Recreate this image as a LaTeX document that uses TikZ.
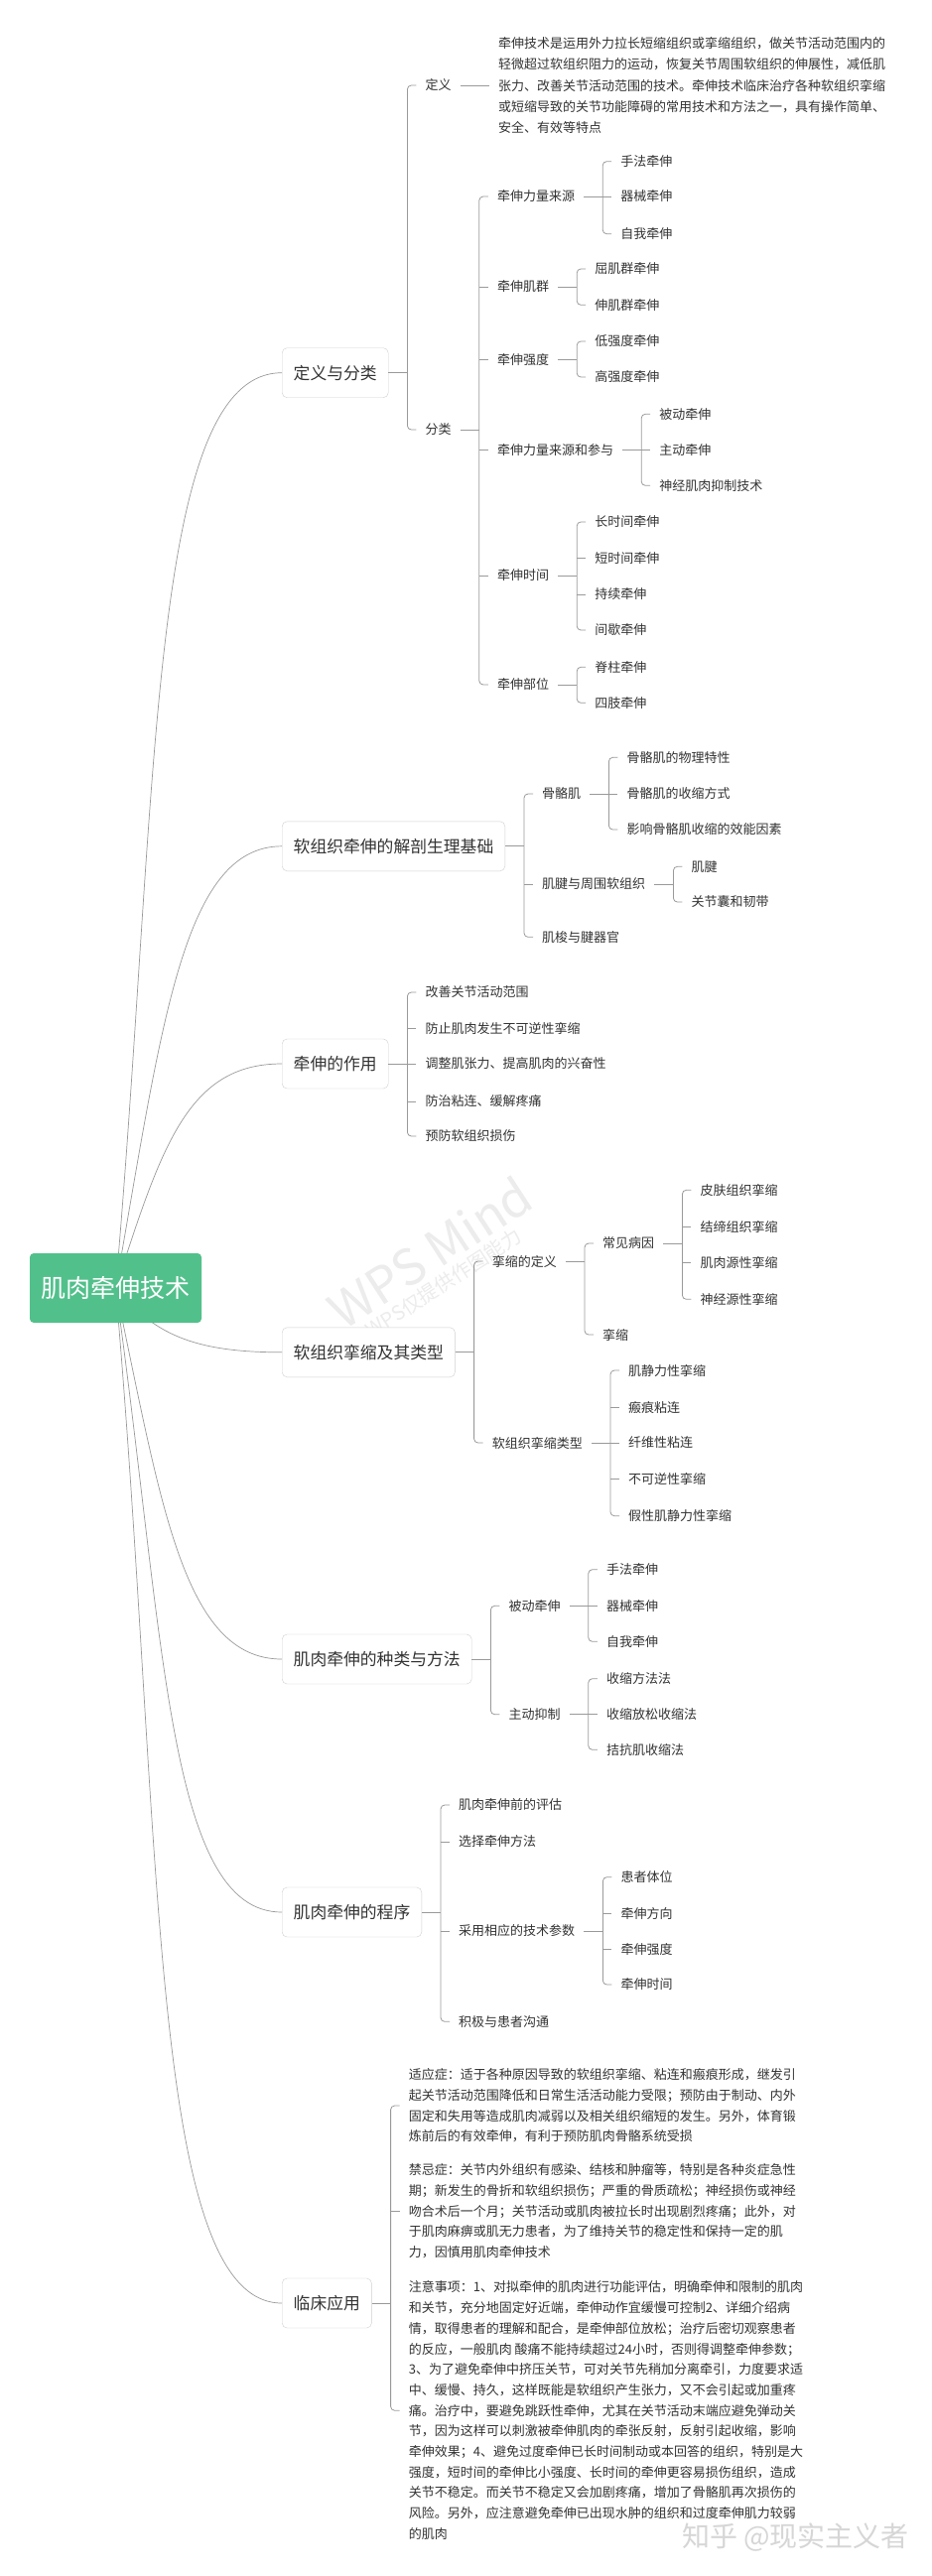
\documentclass[tikz,border=0pt]{standalone}
\usepackage{fontspec}
\setmainfont{Noto Sans CJK SC}
\usepackage{tikz}
\usetikzlibrary{positioning}
\definecolor{mapgreen}{HTML}{52C08B}
\definecolor{mapink}{HTML}{333333}
\definecolor{mapline}{HTML}{9A9A9A}
\definecolor{mapframe}{HTML}{CFCFCF}
\definecolor{mapmark}{HTML}{ECECEC}
\definecolor{mapsign}{HTML}{D6D6D6}
\tikzset{
  rootbox/.style={
    rectangle,
    rounded corners=4pt,
    fill=mapgreen,
    text=white,
    minimum width=173pt,
    minimum height=70pt,
    font=\fontsize{25}{30}\selectfont
  },
  topicbox/.style={
    rectangle,
    rounded corners=5pt,
    draw=mapframe,
    fill=white,
    text=mapink,
    inner xsep=11.5pt,
    minimum height=50pt,
    anchor=west,
    font=\fontsize{16.8}{20}\selectfont
  },
  leaf/.style={text=mapink, inner xsep=9pt, inner ysep=3pt, anchor=west, font=\fontsize{13}{16}\selectfont},
  leafpara/.style={leaf, align=left, font=\fontsize{13}{20.7}\selectfont},
  branch/.style={draw=mapline, line width=0.8pt, rounded corners=4pt},
  trunk/.style={draw=mapline, line width=0.7pt},
  watermark/.style={text=mapmark, inner sep=0pt}
}
\begin{document}
\begin{tikzpicture}[x=1pt,y=1pt]
\useasboundingbox (0,0) rectangle (939,-2596);
\fill[white] (0,0) rectangle (939,-2596);
\node[watermark, rotate=33, font=\fontsize{50}{50}\selectfont] (wpsmark) at (433,-1262) {WPS Mind};
\node[watermark, rotate=33, font=\fontsize{20}{20}\selectfont] (wpsnote) at (447,-1293) {WPS仅提供作图能力};
\coordinate (hub) at (116.5,-1298);
\node[topicbox] (defcls) at (284,-375.7) {定义与分类};
\node[topicbox] (anatomy) at (284,-852.8) {软组织牵伸的解剖生理基础};
\node[topicbox] (effect) at (284,-1072) {牵伸的作用};
\node[topicbox] (contract) at (284,-1362.8) {软组织挛缩及其类型};
\node[topicbox] (methods) at (284,-1672) {肌肉牵伸的种类与方法};
\node[topicbox] (proc) at (284,-1927) {肌肉牵伸的程序};
\node[topicbox] (clinic) at (284,-2321) {临床应用};

\coordinate (defclsk) at ([xshift=19pt]defcls.east);
\node[leaf, xshift=9pt] (defn) at (defclsk |- 0,-86) {定义};
\node[leaf, xshift=9pt] (cls) at (defclsk |- 0,-433) {分类};
\node[leafpara, right=29pt of defn, font=\fontsize{13}{21.1}\selectfont] (deftext) {牵伸技术是运用外力拉长短缩组织或挛缩组织，做关节活动范围内的\\轻微超过软组织阻力的运动，恢复关节周围软组织的伸展性，减低肌\\张力、改善关节活动范围的技术。牵伸技术临床治疗各种软组织挛缩\\或短缩导致的关节功能障碍的常用技术和方法之一，具有操作简单、\\安全、有效等特点};
\draw[branch] (defcls.east) -- (defclsk);
\draw[branch] (defn.west) -| (defclsk) |- (cls.west);
\draw[branch] (defn.east) -- (deftext.west);

\coordinate (clsk) at ([xshift=19pt]cls.east);
\node[leaf, xshift=9pt] (force) at (clsk |- 0,-198) {牵伸力量来源};
\node[leaf, xshift=9pt] (group) at (clsk |- 0,-289) {牵伸肌群};
\node[leaf, xshift=9pt] (strength) at (clsk |- 0,-362.5) {牵伸强度};
\node[leaf, xshift=9pt] (mode) at (clsk |- 0,-453.3) {牵伸力量来源和参与};
\node[leaf, xshift=9pt] (span) at (clsk |- 0,-580) {牵伸时间};
\node[leaf, xshift=9pt] (site) at (clsk |- 0,-690) {牵伸部位};
\draw[branch] (cls.east) -- (clsk);
\draw[branch] (force.west) -| (clsk) |- (site.west);
\draw[branch] (clsk |- group.west) -- (group.west);
\draw[branch] (clsk |- strength.west) -- (strength.west);
\draw[branch] (clsk |- mode.west) -- (mode.west);
\draw[branch] (clsk |- span.west) -- (span.west);

\coordinate (forcek) at ([xshift=19pt]force.east);
\node[leaf, xshift=9pt] (manual) at (forcek |- 0,-162.7) {手法牵伸};
\node[leaf, xshift=9pt] (device) at (forcek |- 0,-198) {器械牵伸};
\node[leaf, xshift=9pt] (selfst) at (forcek |- 0,-235.7) {自我牵伸};
\draw[branch] (force.east) -- (forcek);
\draw[branch] (manual.west) -| (forcek) |- (selfst.west);
\draw[branch] (forcek |- device.west) -- (device.west);

\coordinate (groupk) at ([xshift=19pt]group.east);
\node[leaf, xshift=9pt] (flexor) at (groupk |- 0,-271) {屈肌群牵伸};
\node[leaf, xshift=9pt] (extensor) at (groupk |- 0,-307.3) {伸肌群牵伸};
\draw[branch] (group.east) -- (groupk);
\draw[branch] (flexor.west) -| (groupk) |- (extensor.west);

\coordinate (strengthk) at ([xshift=19pt]strength.east);
\node[leaf, xshift=9pt] (lowint) at (strengthk |- 0,-344) {低强度牵伸};
\node[leaf, xshift=9pt] (highint) at (strengthk |- 0,-380) {高强度牵伸};
\draw[branch] (strength.east) -- (strengthk);
\draw[branch] (lowint.west) -| (strengthk) |- (highint.west);

\coordinate (modek) at ([xshift=19pt]mode.east);
\node[leaf, xshift=9pt] (passive) at (modek |- 0,-417.3) {被动牵伸};
\node[leaf, xshift=9pt] (active) at (modek |- 0,-453.3) {主动牵伸};
\node[leaf, xshift=9pt] (nmi) at (modek |- 0,-489.3) {神经肌肉抑制技术};
\draw[branch] (mode.east) -- (modek);
\draw[branch] (passive.west) -| (modek) |- (nmi.west);
\draw[branch] (modek |- active.west) -- (active.west);

\coordinate (spank) at ([xshift=19pt]span.east);
\node[leaf, xshift=9pt] (longst) at (spank |- 0,-526) {长时间牵伸};
\node[leaf, xshift=9pt] (shortst) at (spank |- 0,-562.3) {短时间牵伸};
\node[leaf, xshift=9pt] (steady) at (spank |- 0,-599) {持续牵伸};
\node[leaf, xshift=9pt] (pulse) at (spank |- 0,-635) {间歇牵伸};
\draw[branch] (span.east) -- (spank);
\draw[branch] (longst.west) -| (spank) |- (pulse.west);
\draw[branch] (spank |- shortst.west) -- (shortst.west);
\draw[branch] (spank |- steady.west) -- (steady.west);

\coordinate (sitek) at ([xshift=19pt]site.east);
\node[leaf, xshift=9pt] (spine) at (sitek |- 0,-672.3) {脊柱牵伸};
\node[leaf, xshift=9pt] (limb) at (sitek |- 0,-708.3) {四肢牵伸};
\draw[branch] (site.east) -- (sitek);
\draw[branch] (spine.west) -| (sitek) |- (limb.west);

\coordinate (anatomyk) at ([xshift=19pt]anatomy.east);
\node[leaf, xshift=9pt] (skeletal) at (anatomyk |- 0,-800) {骨骼肌};
\node[leaf, xshift=9pt] (tendon) at (anatomyk |- 0,-891) {肌腱与周围软组织};
\node[leaf, xshift=9pt] (spindle) at (anatomyk |- 0,-944.3) {肌梭与腱器官};
\draw[branch] (anatomy.east) -- (anatomyk);
\draw[branch] (skeletal.west) -| (anatomyk) |- (spindle.west);
\draw[branch] (anatomyk |- tendon.west) -- (tendon.west);

\coordinate (skeletalk) at ([xshift=19pt]skeletal.east);
\node[leaf, xshift=9pt] (physprop) at (skeletalk |- 0,-763.3) {骨骼肌的物理特性};
\node[leaf, xshift=9pt] (contrmode) at (skeletalk |- 0,-800) {骨骼肌的收缩方式};
\node[leaf, xshift=9pt] (efficacy) at (skeletalk |- 0,-836) {影响骨骼肌收缩的效能因素};
\draw[branch] (skeletal.east) -- (skeletalk);
\draw[branch] (physprop.west) -| (skeletalk) |- (efficacy.west);
\draw[branch] (skeletalk |- contrmode.west) -- (contrmode.west);

\coordinate (tendonk) at ([xshift=19pt]tendon.east);
\node[leaf, xshift=9pt] (tendonitem) at (tendonk |- 0,-873.3) {肌腱};
\node[leaf, xshift=9pt] (capsule) at (tendonk |- 0,-909) {关节囊和韧带};
\draw[branch] (tendon.east) -- (tendonk);
\draw[branch] (tendonitem.west) -| (tendonk) |- (capsule.west);

\coordinate (effectk) at ([xshift=19pt]effect.east);
\node[leaf, xshift=9pt] (rom) at (effectk |- 0,-1000) {改善关节活动范围};
\node[leaf, xshift=9pt] (prevent) at (effectk |- 0,-1036.7) {防止肌肉发生不可逆性挛缩};
\node[leaf, xshift=9pt] (tone) at (effectk |- 0,-1072) {调整肌张力、提高肌肉的兴奋性};
\node[leaf, xshift=9pt] (relief) at (effectk |- 0,-1110) {防治粘连、缓解疼痛};
\node[leaf, xshift=9pt] (guard) at (effectk |- 0,-1145) {预防软组织损伤};
\draw[branch] (effect.east) -- (effectk);
\draw[branch] (rom.west) -| (effectk) |- (guard.west);
\draw[branch] (effectk |- prevent.west) -- (prevent.west);
\draw[branch] (effectk |- tone.west) -- (tone.west);
\draw[branch] (effectk |- relief.west) -- (relief.west);

\coordinate (contractk) at ([xshift=19pt]contract.east);
\node[leaf, xshift=9pt] (cdef) at (contractk |- 0,-1271) {挛缩的定义};
\node[leaf, xshift=9pt] (ctype) at (contractk |- 0,-1454) {软组织挛缩类型};
\draw[branch] (contract.east) -- (contractk);
\draw[branch] (cdef.west) -| (contractk) |- (ctype.west);

\coordinate (cdefk) at ([xshift=19pt]cdef.east);
\node[leaf, xshift=9pt] (cause) at (cdefk |- 0,-1253) {常见病因};
\node[leaf, xshift=9pt] (cshort) at (cdefk |- 0,-1345) {挛缩};
\draw[branch] (cdef.east) -- (cdefk);
\draw[branch] (cause.west) -| (cdefk) |- (cshort.west);

\coordinate (causek) at ([xshift=19pt]cause.east);
\node[leaf, xshift=9pt] (skin) at (causek |- 0,-1199.3) {皮肤组织挛缩};
\node[leaf, xshift=9pt] (connective) at (causek |- 0,-1236) {结缔组织挛缩};
\node[leaf, xshift=9pt] (myogenic) at (causek |- 0,-1272.3) {肌肉源性挛缩};
\node[leaf, xshift=9pt] (neurogenic) at (causek |- 0,-1309.3) {神经源性挛缩};
\draw[branch] (cause.east) -- (causek);
\draw[branch] (skin.west) -| (causek) |- (neurogenic.west);
\draw[branch] (causek |- connective.west) -- (connective.west);
\draw[branch] (causek |- myogenic.west) -- (myogenic.west);

\coordinate (ctypek) at ([xshift=19pt]ctype.east);
\node[leaf, xshift=9pt] (myostatic) at (ctypek |- 0,-1381) {肌静力性挛缩};
\node[leaf, xshift=9pt] (scar) at (ctypek |- 0,-1418.3) {瘢痕粘连};
\node[leaf, xshift=9pt] (fibrous) at (ctypek |- 0,-1454) {纤维性粘连};
\node[leaf, xshift=9pt] (irrev) at (ctypek |- 0,-1490.7) {不可逆性挛缩};
\node[leaf, xshift=9pt] (pseudo) at (ctypek |- 0,-1527.7) {假性肌静力性挛缩};
\draw[branch] (ctype.east) -- (ctypek);
\draw[branch] (myostatic.west) -| (ctypek) |- (pseudo.west);
\draw[branch] (ctypek |- scar.west) -- (scar.west);
\draw[branch] (ctypek |- fibrous.west) -- (fibrous.west);
\draw[branch] (ctypek |- irrev.west) -- (irrev.west);

\coordinate (methodsk) at ([xshift=19pt]methods.east);
\node[leaf, xshift=9pt] (mpassive) at (methodsk |- 0,-1618.3) {被动牵伸};
\node[leaf, xshift=9pt] (minhib) at (methodsk |- 0,-1727.7) {主动抑制};
\draw[branch] (methods.east) -- (methodsk);
\draw[branch] (mpassive.west) -| (methodsk) |- (minhib.west);

\coordinate (mpassivek) at ([xshift=19pt]mpassive.east);
\node[leaf, xshift=9pt] (mmanual) at (mpassivek |- 0,-1581.7) {手法牵伸};
\node[leaf, xshift=9pt] (mdevice) at (mpassivek |- 0,-1618.3) {器械牵伸};
\node[leaf, xshift=9pt] (mself) at (mpassivek |- 0,-1654.3) {自我牵伸};
\draw[branch] (mpassive.east) -- (mpassivek);
\draw[branch] (mmanual.west) -| (mpassivek) |- (mself.west);
\draw[branch] (mpassivek |- mdevice.west) -- (mdevice.west);

\coordinate (minhibk) at ([xshift=19pt]minhib.east);
\node[leaf, xshift=9pt] (hold) at (minhibk |- 0,-1691.7) {收缩方法法};
\node[leaf, xshift=9pt] (holdrelax) at (minhibk |- 0,-1727.7) {收缩放松收缩法};
\node[leaf, xshift=9pt] (agon) at (minhibk |- 0,-1763.3) {拮抗肌收缩法};
\draw[branch] (minhib.east) -- (minhibk);
\draw[branch] (hold.west) -| (minhibk) |- (agon.west);
\draw[branch] (minhibk |- holdrelax.west) -- (holdrelax.west);

\coordinate (prock) at ([xshift=19pt]proc.east);
\node[leaf, xshift=9pt] (assess) at (prock |- 0,-1819) {肌肉牵伸前的评估};
\node[leaf, xshift=9pt] (choose) at (prock |- 0,-1856) {选择牵伸方法};
\node[leaf, xshift=9pt] (param) at (prock |- 0,-1946) {采用相应的技术参数};
\node[leaf, xshift=9pt] (talk) at (prock |- 0,-2037.3) {积极与患者沟通};
\draw[branch] (proc.east) -- (prock);
\draw[branch] (assess.west) -| (prock) |- (talk.west);
\draw[branch] (prock |- choose.west) -- (choose.west);
\draw[branch] (prock |- param.west) -- (param.west);

\coordinate (paramk) at ([xshift=19pt]param.east);
\node[leaf, xshift=9pt] (posture) at (paramk |- 0,-1891.7) {患者体位};
\node[leaf, xshift=9pt] (direction) at (paramk |- 0,-1928.3) {牵伸方向};
\node[leaf, xshift=9pt] (pintensity) at (paramk |- 0,-1964.3) {牵伸强度};
\node[leaf, xshift=9pt] (ptime) at (paramk |- 0,-2000) {牵伸时间};
\draw[branch] (param.east) -- (paramk);
\draw[branch] (posture.west) -| (paramk) |- (ptime.west);
\draw[branch] (paramk |- direction.west) -- (direction.west);
\draw[branch] (paramk |- pintensity.west) -- (pintensity.west);

\coordinate (clinick) at ([xshift=19pt]clinic.east);
\node[leafpara, xshift=9pt] (indic) at (clinick |- 0,-2122) {适应症：适于各种原因导致的软组织挛缩、粘连和瘢痕形成，继发引\\起关节活动范围降低和日常生活活动能力受限；预防由于制动、内外\\固定和失用等造成肌肉减弱以及相关组织缩短的发生。另外，体育锻\\炼前后的有效牵伸，有利于预防肌肉骨骼系统受损};
\node[leafpara, xshift=9pt] (contra) at (clinick |- 0,-2228.3) {禁忌症：关节内外组织有感染、结核和肿瘤等，特别是各种炎症急性\\期；新发生的骨折和软组织损伤；严重的骨质疏松；神经损伤或神经\\吻合术后一个月；关节活动或肌肉被拉长时出现剧烈疼痛；此外，对\\于肌肉麻痹或肌无力患者，为了维持关节的稳定性和保持一定的肌\\力，因慎用肌肉牵伸技术};
\node[leafpara, xshift=9pt] (caution) at (clinick |- 0,-2429.2) {注意事项：1、对拟牵伸的肌肉进行功能评估，明确牵伸和限制的肌肉\\和关节，充分地固定好近端，牵伸动作宜缓慢可控制2、详细介绍病\\情，取得患者的理解和配合，是牵伸部位放松；治疗后密切观察患者\\的反应，一般肌肉 酸痛不能持续超过24小时，否则得调整牵伸参数；\\3、为了避免牵伸中挤压关节，可对关节先稍加分离牵引，力度要求适\\中、缓慢、持久，这样既能是软组织产生张力，又不会引起或加重疼\\痛。治疗中，要避免跳跃性牵伸，尤其在关节活动末端应避免弹动关\\节，因为这样可以刺激被牵伸肌肉的牵张反射，反射引起收缩，影响\\牵伸效果；4、避免过度牵伸已长时间制动或本回答的组织，特别是大\\强度，短时间的牵伸比小强度、长时间的牵伸更容易损伤组织，造成\\关节不稳定。而关节不稳定又会加剧疼痛，增加了骨骼肌再次损伤的\\风险。另外，应注意避免牵伸已出现水肿的组织和过度牵伸肌力较弱\\的肌肉};
\draw[branch] (clinic.east) -- (clinick);
\draw[branch] (indic.west) -| (clinick) |- (caution.west);
\draw[branch] (clinick |- contra.west) -- (contra.west);

\draw[trunk] (hub) .. controls +(85:500) and +(180:135) .. (defcls.west);
\draw[trunk] (hub) .. controls +(80:270) and +(180:100) .. (anatomy.west);
\draw[trunk] (hub) .. controls +(72:150) and +(180:95) .. (effect.west);
\draw[trunk] (hub) .. controls +(-50:60) and +(180:90) .. (contract.west);
\draw[trunk] (hub) .. controls +(-78:220) and +(180:100) .. (methods.west);
\draw[trunk] (hub) .. controls +(-82:360) and +(180:115) .. (proc.west);
\draw[trunk] (hub) .. controls +(-85:550) and +(180:135) .. (clinic.west);
\node[rootbox] (root) at (hub) {肌肉牵伸技术};
\node[watermark, text=mapsign, anchor=west, font=\fontsize{28}{28}\selectfont] (zhihu) at (687,-2556.7) {知乎 @现实主义者};
\end{tikzpicture}
\end{document}
